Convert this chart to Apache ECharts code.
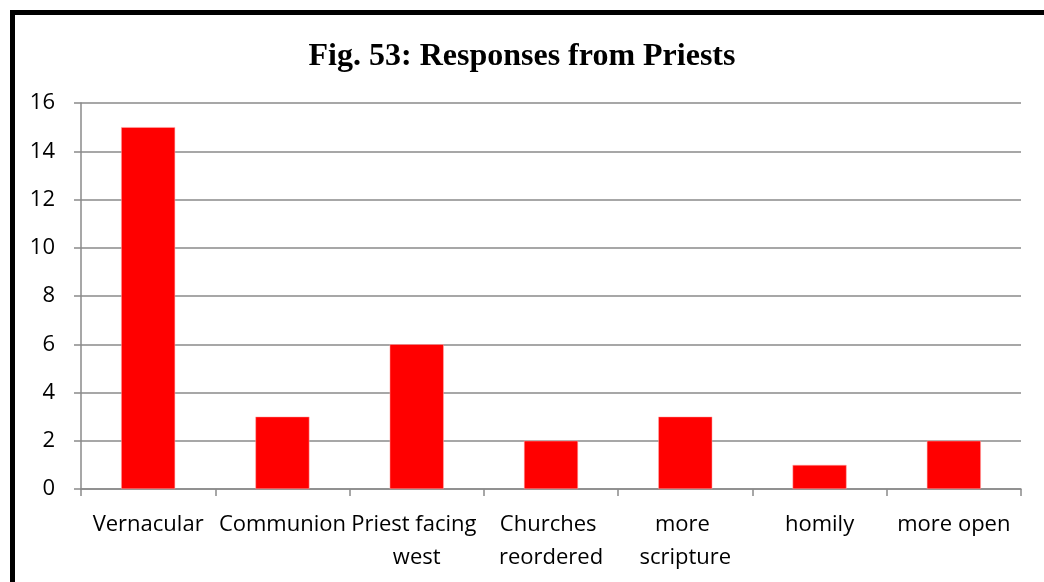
<!DOCTYPE html>
<html>
<head>
<meta charset="utf-8">
<script src="https://cdn.jsdelivr.net/npm/echarts@6/dist/echarts.min.js"></script>
<style>
  html, body { margin: 0; padding: 0; background: #fff; }
  #wrap { position: relative; width: 1044px; height: 582px; overflow: hidden; }
  #chart { position: absolute; left: 0; top: 0; width: 1044px; height: 582px; }
  #frame { position: absolute; left: 10px; top: 10px; width: 1100px; height: 700px;
           border-left: 5px solid #000; border-top: 5px solid #000; pointer-events: none; }
</style>
</head>
<body>
<div id="wrap">
  <div id="chart"></div>
  <div id="frame"></div>
</div>
<script>
const categories = ['Vernacular', 'Communion', 'Priest facing west', 'Churches reordered', 'more scripture', 'homily', 'more open'];
const responses = [15, 3, 6, 2, 3, 1, 2];
const chartTitle = 'Fig. 53: Responses from Priests';

const labelFont = '"Open Sans", "Noto Sans", sans-serif';
const gridGray = '#8a8a8a';

const chart = echarts.init(document.getElementById('chart'), null, { renderer: 'canvas' });
chart.setOption({
  animation: false,
  title: {
    text: chartTitle,
    left: 'center',
    top: 36,
    textStyle: { fontFamily: '"Liberation Serif", "Times New Roman", serif', fontWeight: 'bold', fontSize: 32, color: '#000' }
  },
  grid: { left: 81, right: 23, top: 103, bottom: 93, containLabel: false },
  xAxis: {
    type: 'category',
    data: categories,
    axisLine: { lineStyle: { color: gridGray, width: 1.5 } },
    axisTick: { show: true, length: 7, alignWithLabel: false, lineStyle: { color: gridGray, width: 1.5 } },
    axisLabel: {
      interval: 0,
      margin: 19,
      width: 140,
      overflow: 'break',
      lineHeight: 33,
      fontFamily: labelFont,
      fontSize: 22,
      color: '#000'
    }
  },
  yAxis: {
    type: 'value',
    min: 0,
    max: 16,
    interval: 2,
    axisLine: { show: true, lineStyle: { color: gridGray, width: 1.5 } },
    axisTick: { show: true, length: 7, lineStyle: { color: gridGray, width: 1.5 } },
    splitLine: { show: true, lineStyle: { color: gridGray, width: 1.5 } },
    axisLabel: { margin: 26, fontFamily: labelFont, fontSize: 22, color: '#000' }
  },
  series: [{
    type: 'bar',
    data: responses,
    barWidth: 54,
    itemStyle: { color: '#ff0000', borderColor: '#ffb3b3', borderWidth: 0.5 }
  }]
});
</script>
</body>
</html>
